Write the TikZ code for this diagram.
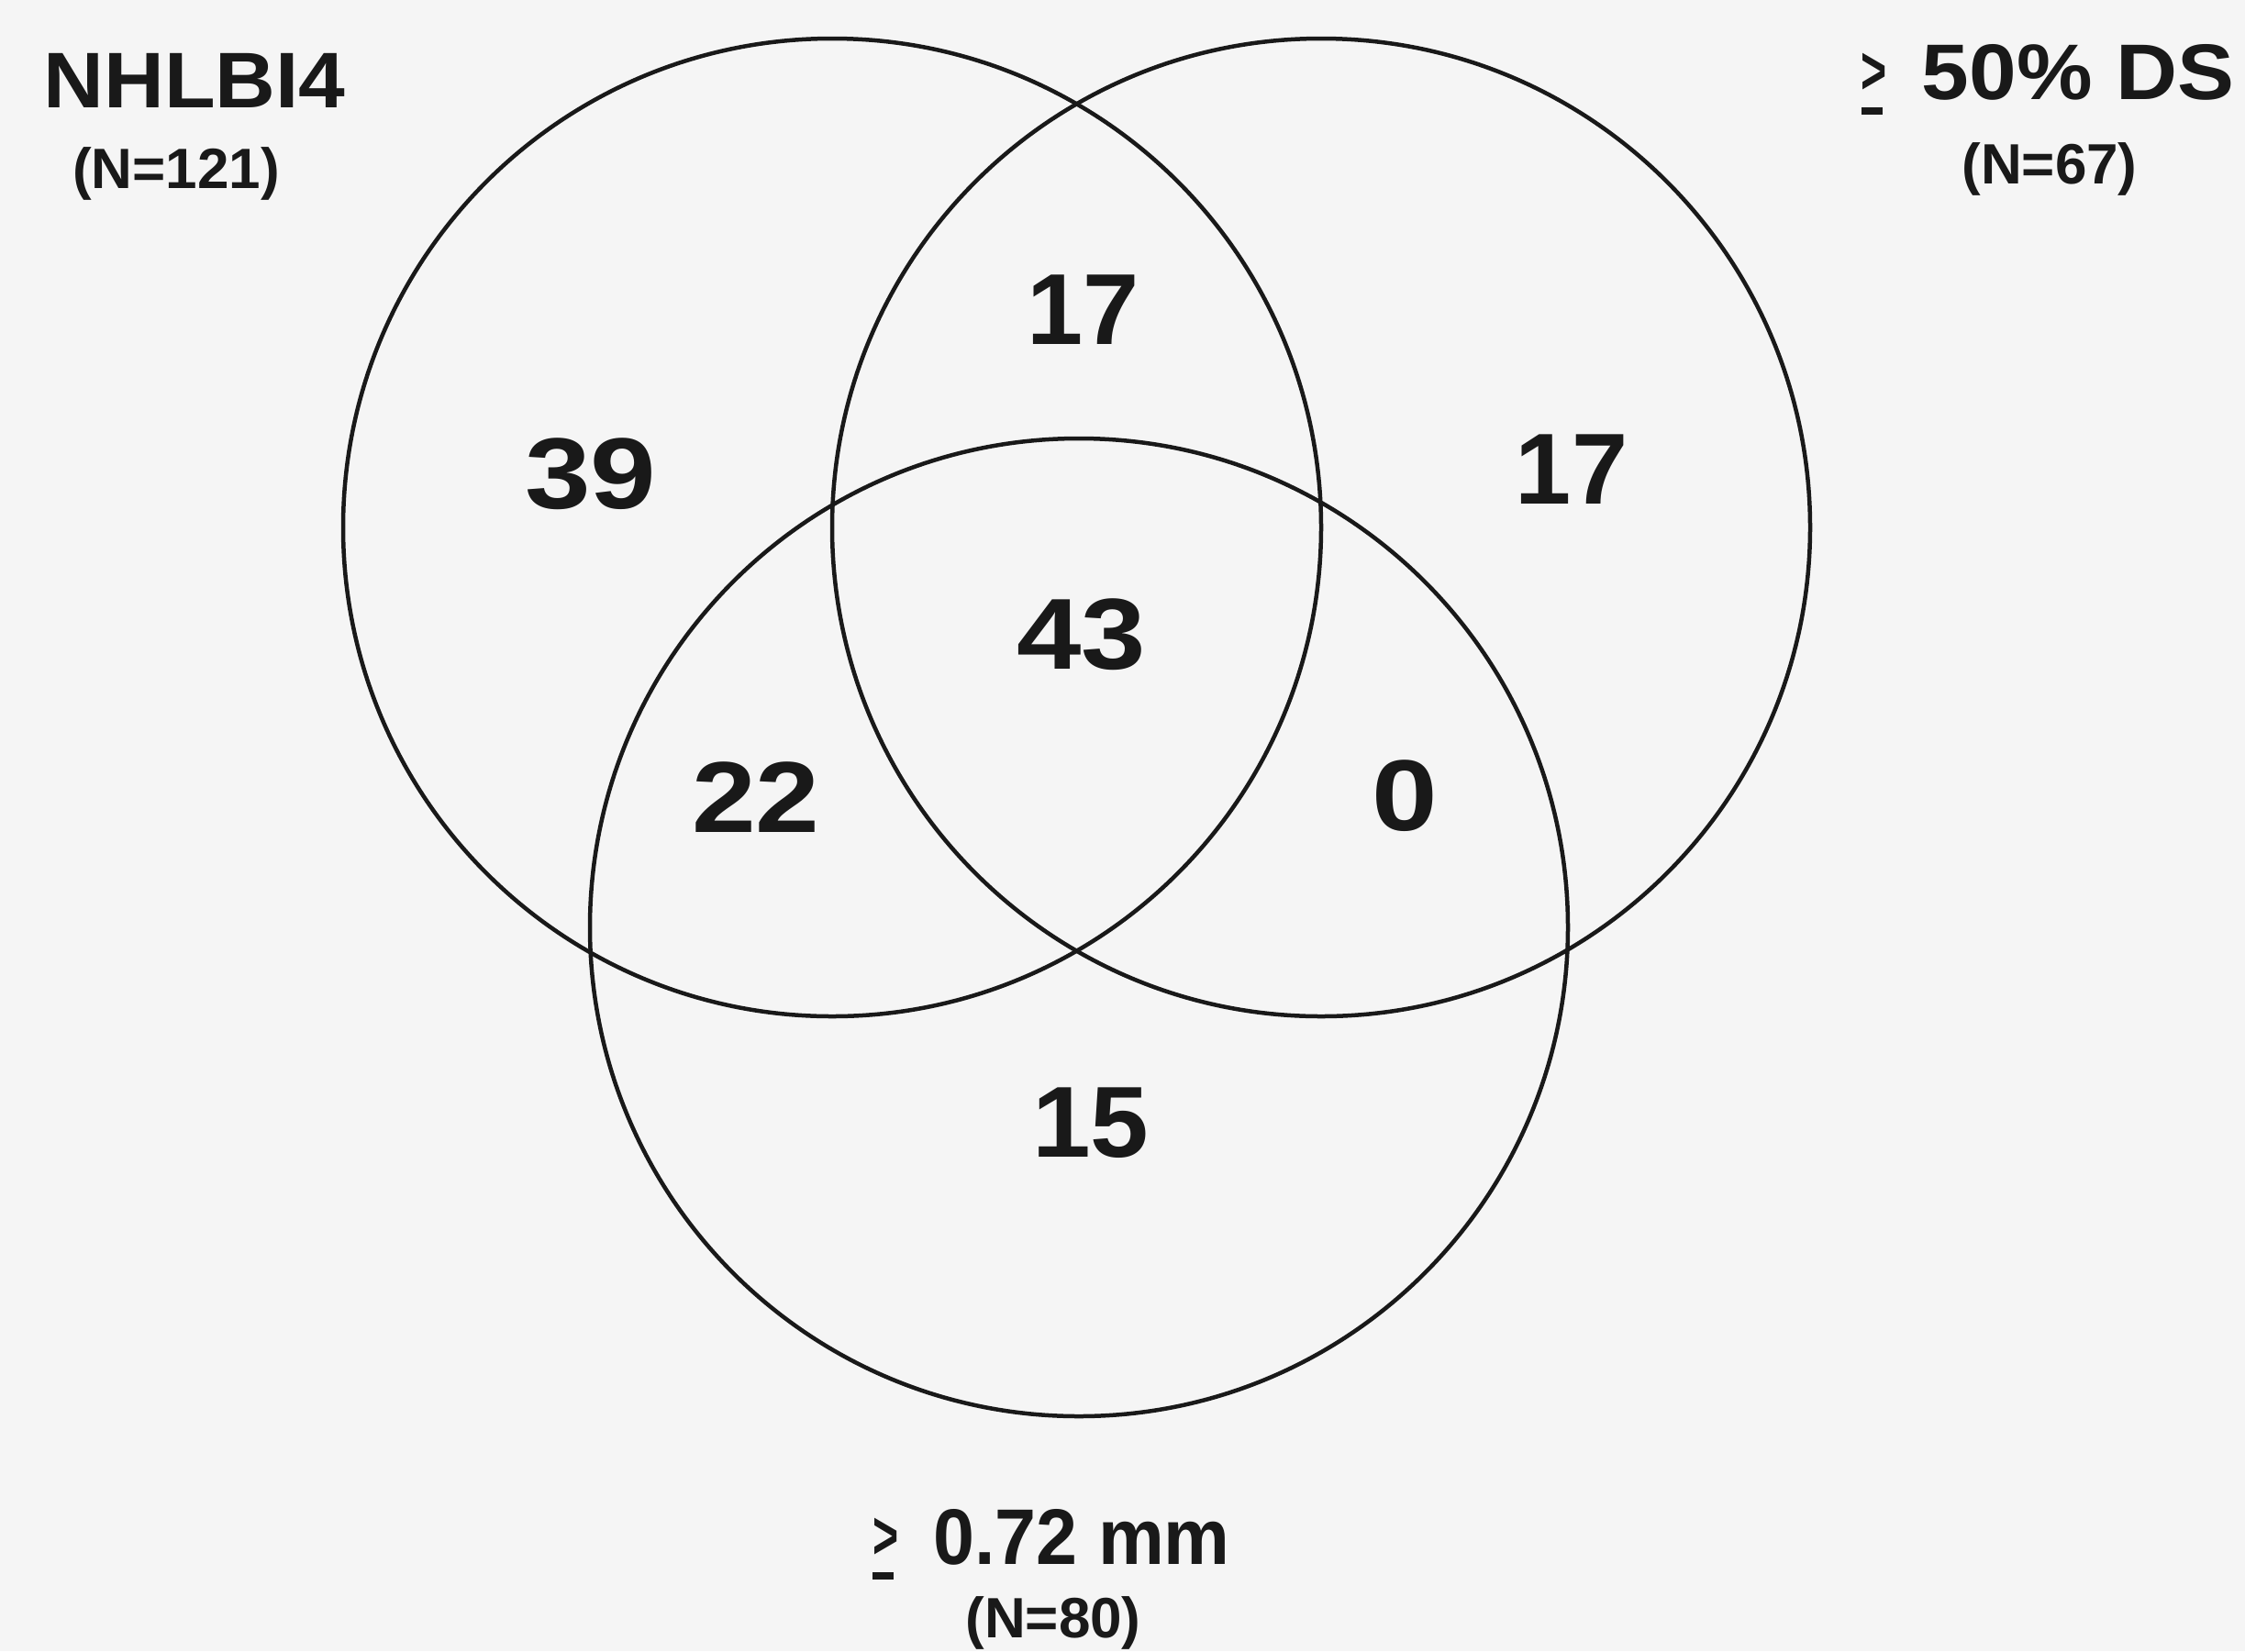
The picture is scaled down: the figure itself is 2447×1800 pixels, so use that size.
\documentclass[tikz,border=0pt]{standalone}
\usepackage{fontspec}
\setmainfont{Liberation Sans}
\usepackage{graphicx}
\definecolor{bgc}{RGB}{245,245,245}
\definecolor{ink}{RGB}{25,25,25}
\newcommand{\geqmark}{\makebox[0.27em][l]{\rlap{\rule[-0.2em]{0.27em}{0.09em}}\raisebox{0.06em}{\scalebox{0.56}[0.86]{>}}}}
\begin{document}
\begin{tikzpicture}[x=1pt,y=-1pt,
  venn/.style={draw=ink, line width=4.5pt},
  lbl/.style={inner sep=0pt, anchor=base, text=ink, font=\fontsize{86}{96}\selectfont\bfseries},
  sub/.style={inner sep=0pt, anchor=base, text=ink, font=\fontsize{62}{70}\selectfont\bfseries},
  num/.style={inner sep=0pt, anchor=base, text=ink, font=\fontsize{110}{120}\selectfont\bfseries}]
\fill[bgc] (0,0) rectangle (2447,1800);
\useasboundingbox (0,0) rectangle (2447,1800);
% circles
\coordinate (c1) at (907,575);
\coordinate (c2) at (1440,575);
\coordinate (c3) at (1176,1011);
\draw[venn] (c1) circle[radius=533pt];
\draw[venn] (c2) circle[radius=533pt];
\draw[venn] (c3) circle[radius=533pt];
% set labels
\node[lbl] (nhlbi) at (212,117) {\scalebox{1.06}[1]{NHLBI4}};
\node[sub] (n121) at (192,205) {(N=121)};
\node[lbl] (ds) at (2232,108) {\geqmark\hspace{0.5em}\scalebox{1.08}[1]{50\% DS}};
\node[sub] (n67) at (2234,200) {(N=67)};
\node[lbl] (mm) at (1146,1705) {\geqmark\hspace{0.5em}\scalebox{0.94}[1]{0.72 mm}};
\node[sub] (n80) at (1148,1785) {(N=80)};
% region counts
\node[num] (r1) at (644,554) {\scalebox{1.17}[1]{39}};
\node[num] (r12) at (1181,375) {17};
\node[num] (r2) at (1713,549) {17};
\node[num] (r123) at (1179,729) {\scalebox{1.15}[1]{43}};
\node[num] (r13) at (824,907) {\scalebox{1.14}[1]{22}};
\node[num] (r23) at (1531,905) {\scalebox{1.17}[1]{0}};
\node[num] (r3) at (1189,1261) {\scalebox{1.04}[1]{15}};
\end{tikzpicture}
\end{document}
